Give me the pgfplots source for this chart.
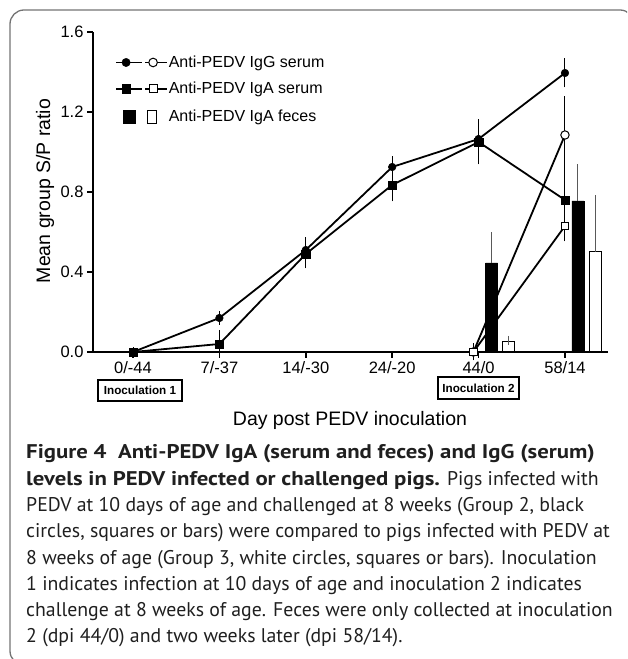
\documentclass[border=0pt]{standalone}
\usepackage{fontspec}
\setmainfont{Liberation Sans}
\newfontfamily\capfont{PT Sans}[BoldFeatures={FakeStretch=1.15}]
\usepackage{pgfplots}
\pgfplotsset{compat=1.18}
\pgfplotstableread{
x y e
0 0.0 0.0
1 0.17 0.012
2 0.51 0.04
3 0.925 0.03
4 1.065 0.06
5 1.395 0.05
}\iggtwo
\pgfplotstableread{
x y e
0 0.0 0.0
1 0.04 0.045
2 0.49 0.05
3 0.835 0.06
4 1.05 0.09
5 0.76 0.11
}\igatwo
\pgfplotstableread{
x y e
3.94 0.0 0.02
5 1.085 0.17
}\iggthree
\pgfplotstableread{
x y e
3.94 0.0 0.0
5 0.63 0.055
}\igathree
\pgfplotstableread{
x y e
4.15 0.445 0.13
5.15 0.755 0.16
}\fecestwo
\pgfplotstableread{
x y e
4.35 0.05 0.008
5.35 0.50 0.26
}\fecesthree
\newcommand\legfont{\fontsize{16}{18}\selectfont}
\begin{document}
\begin{tikzpicture}[x=1pt,y=1pt]
\useasboundingbox (0,0) rectangle (627,659);
\begin{scope}
\clip (0,0) rectangle (627,659);
\draw[color=black!55, line width=1.3pt, rounded corners=14pt] (634,400) -- (634,649) -- (10,649) -- (10,-6) -- (300,-6);
\end{scope}
\begin{axis}[
  at={(93pt,307pt)}, anchor=south west,
  scale only axis, width=515pt, height=320pt,
  xmin=-0.463, xmax=5.498, ymin=0, ymax=1.6,
  clip=false,
  axis lines=left,
  axis line style={-, line width=2pt},
  tick style={line width=1.6pt, black},
  major tick length=6pt, tick align=outside,
  xtick={0,1,2,3,4,5},
  xticklabels={0/-44,7/-37,14/-30,24/-20,44/0,58/14},
  ytick={0,0.4,0.8,1.2,1.6},
  yticklabels={0.0,0.4,0.8,1.2,1.6},
  tick label style={font=\fontsize{16.5}{18}\selectfont},
  xlabel={Day post PEDV inoculation},
  ylabel={Mean group S/P ratio},
  label style={font=\fontsize{19.5}{22}\selectfont},
  x label style={at={(axis description cs:0.499,-0.2125)}, anchor=center},
  y label style={at={(axis description cs:-0.0932,0.503)}, anchor=center},
  legend style={at={(axis description cs:0.0427,0.931)}, anchor=north west,
    draw=none, fill=none, font=\legfont,
    row sep=10pt, inner sep=0pt, nodes={inner xsep=0.5pt, inner ysep=0pt}},
  legend cell align=left,
]
% feces bars
\addplot[ybar, bar width=12pt, bar shift=0pt, fill=black, draw=black, forget plot,
  error bars/.cd, y dir=plus, y explicit,
  error bar style={line width=1pt, color=black!65},
  error mark options={mark size=4.5pt, line width=1pt, color=black!65}]
  table[x=x, y=y, y error=e] {\fecestwo};
\addplot[ybar, bar width=12pt, bar shift=0pt, fill=white, draw=black, line width=1pt, forget plot,
  error bars/.cd, y dir=plus, y explicit,
  error bar style={line width=1pt, color=black!65},
  error mark options={mark size=4.5pt, line width=1pt, color=black!65}]
  table[x=x, y=y, y error=e] {\fecesthree};
% group 3 lines
\addplot[black, line width=1.8pt, mark=*, mark size=4.2pt, forget plot,
  mark options={solid, fill=white, draw=black, line width=1pt},
  error bars/.cd, y dir=both, y explicit,
  error bar style={line width=1pt, black},
  error mark options={mark size=4.5pt, line width=1pt, black}]
  table[x=x, y=y, y error=e] {\iggthree};
\addplot[black, line width=1.8pt, mark=square*, mark size=3.8pt, forget plot,
  mark options={solid, fill=white, draw=black, line width=1pt},
  error bars/.cd, y dir=both, y explicit,
  error bar style={line width=1pt, black},
  error mark options={mark size=4.5pt, line width=1pt, black}]
  table[x=x, y=y, y error=e] {\igathree};
% group 2 lines
\addplot[black, line width=1.8pt, mark=*, mark size=3.8pt, forget plot,
  mark options={solid, fill=black, draw=black, line width=0.5pt},
  error bars/.cd, y dir=both, y explicit,
  error bar style={line width=1pt, black},
  error mark options={mark size=4.5pt, line width=1pt, black}]
  table[x=x, y=y, y error=e] {\iggtwo};
\addplot[black, line width=1.8pt, mark=square*, mark size=4.2pt, forget plot,
  mark options={solid, fill=black, draw=black, line width=0.5pt},
  error bars/.cd, y dir=both, y explicit,
  error bar style={line width=1pt, black},
  error mark options={mark size=4.5pt, line width=1pt, black}]
  table[x=x, y=y, y error=e] {\igatwo};
% legend
\addlegendimage{legend image code/.code={
  \path (0pt,-8pt) (0pt,8pt);
  \draw[line width=1.8pt] (0pt,0pt) -- (26pt,0pt);
  \fill[black] (10pt,0pt) circle (4.2pt);
  \draw[line width=1.8pt] (29pt,0pt) -- (51pt,0pt);
  \draw[line width=1pt, fill=white] (37pt,0pt) circle (4.3pt);
}}
\addlegendentry{\legfont Anti-PEDV IgG serum}
\addlegendimage{legend image code/.code={
  \path (0pt,-8pt) (0pt,8pt);
  \draw[line width=1.8pt] (0pt,0pt) -- (26pt,0pt);
  \fill[black] (6pt,-4.3pt) rectangle (14.6pt,4.3pt);
  \draw[line width=1.8pt] (29pt,0pt) -- (51pt,0pt);
  \draw[line width=1pt, fill=white] (33pt,-4pt) rectangle (41pt,4pt);
}}
\addlegendentry{\legfont Anti-PEDV IgA serum}
\addlegendimage{legend image code/.code={
  \path (0pt,-9.5pt) (0pt,9.5pt) (52pt,0pt);
  \fill[black] (7pt,-6.8pt) rectangle (19pt,6.8pt);
  \draw[line width=1pt, fill=white] (31.5pt,-6.3pt) rectangle (40pt,6.3pt);
}}
\addlegendentry{\legfont Anti-PEDV IgA feces}
\end{axis}
\node[draw, line width=1.1pt, font=\bfseries\fontsize{11.7}{13}\selectfont,
  minimum width=84pt, minimum height=21pt, inner sep=0pt] at (140,268.5) {Inoculation 1};
\node[draw, line width=1.1pt, font=\bfseries\fontsize{11.7}{13}\selectfont,
  minimum width=81pt, minimum height=22pt, inner sep=0pt] at (478.5,271) {Inoculation 2};
\node[anchor=base west, inner sep=0pt, align=left, text=black!88,
  font=\capfont\fontsize{19.8}{26.3}\selectfont] at (26,16) {%
{\bfseries Figure 4\ \ Anti-PEDV IgA (serum and feces) and IgG (serum)}\\
{\bfseries levels in PEDV infected or challenged pigs.} Pigs infected with\\
PEDV at 10 days of age and challenged at 8 weeks (Group 2, black\\
circles, squares or bars) were compared to pigs infected with PEDV at\\
8 weeks of age (Group 3, white circles, squares or bars). Inoculation\\
1 indicates infection at 10 days of age and inoculation 2 indicates\\
challenge at 8 weeks of age. Feces were only collected at inoculation\\
2 (dpi 44/0) and two weeks later (dpi 58/14).};
\end{tikzpicture}
\end{document}
